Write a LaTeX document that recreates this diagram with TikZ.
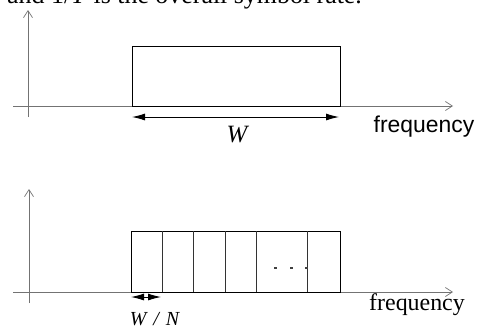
\documentclass[tikz,border=0pt]{standalone}
\usepackage{fontspec}
\setmainfont{Liberation Serif}
\newfontfamily\arialfont{Liberation Sans}
\usetikzlibrary{arrows.meta}
\begin{document}
\begin{tikzpicture}[x=1bp,y=-1bp,
  axis/.style={draw=black!55, line width=0.7bp, -{Straight Barb[length=7bp,width=9bp]}},
  band/.style={draw=black, line width=0.9bp, inner sep=0pt, outer sep=0pt, anchor=north west},
  divider/.style={draw=black!80, line width=0.9bp},
  dim/.style={draw=black, line width=0.9bp, {Latex[length=13bp,width=7bp]}-{Latex[length=13bp,width=7bp]}},
  dotmark/.style={fill=black!75, inner sep=0pt, minimum width=3bp, minimum height=1.6bp},
  lbl/.style={inner sep=0pt}]
\useasboundingbox (0,0) rectangle (480,330);
\clip (0,0) rectangle (480,330);
\fill[white] (0,0) rectangle (480,330);
% caption remnant at top (cut off by the picture's edge, as in the reference)
\node[lbl, anchor=base west] (cap) at (7,3) {\fontsize{26}{30}\selectfont and 1/\textit{T} is the overall symbol rate.};
% ---------- top diagram ----------
\coordinate (v1b) at (28,117);
\coordinate (v1t) at (28,10);
\coordinate (h1l) at (13,106);
\coordinate (h1r) at (453,106);
\draw[axis] (v1b) -- (v1t);
\draw[axis] (h1l) -- (h1r);
\node[band, minimum width=208bp, minimum height=60bp] (b1) at (132,46) {};
\coordinate (w1l) at (132,117);
\coordinate (w1r) at (339,117);
\draw[dim] (w1l) -- (w1r);
\node[lbl] (W) at (238,135) {\fontsize{25}{28}\selectfont\textit{W}};
\node[lbl] (f1) at (424,127) {\arialfont\fontsize{23}{26}\selectfont frequency};
% ---------- bottom diagram ----------
\coordinate (v2b) at (29,303);
\coordinate (v2t) at (29,189);
\coordinate (h2l) at (13,292);
\coordinate (h2r) at (453,292);
\draw[axis] (v2b) -- (v2t);
\draw[axis] (h2l) -- (h2r);
\node[band, minimum width=209bp, minimum height=61bp] (b2) at (131,231) {};
\foreach \xx [count=\i] in {162,193,225,256,307} {
  \coordinate (dt\i) at (\xx,231);
  \coordinate (db\i) at (\xx,292);
  \draw[divider] (dt\i) -- (db\i);
}
\node[dotmark] (d1) at (275,268) {};
\node[dotmark] (d2) at (291,268) {};
\node[dotmark] (d3) at (306,268) {};
\coordinate (w2l) at (131,297);
\coordinate (w2r) at (161,297);
\draw[dim] (w2l) -- (w2r);
\node[lbl] (WN) at (155,319) {\fontsize{20}{24}\selectfont\textit{W\hspace{7bp}/\hspace{7bp}N}};
\node[lbl] (f2) at (417,305) {\fontsize{24}{28}\selectfont frequency};
\end{tikzpicture}
\end{document}
